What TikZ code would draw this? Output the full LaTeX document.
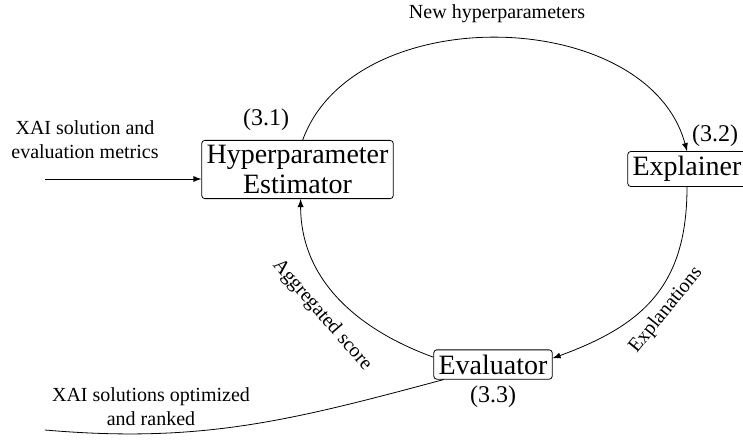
\documentclass[tikz,border=0pt]{standalone}
\usepackage{fontspec}
\setmainfont{Liberation Serif}
\usetikzlibrary{arrows}

\tikzset{
  block/.style={draw, rounded corners=1.5pt, align=center, inner sep=2.4pt,
    font=\fontsize{14}{15}\selectfont},
  stage/.style={font=\large},
  flow/.style={-latex},
  note/.style={align=center},
}

\begin{document}
\begin{tikzpicture}[x=0.5pt,y=0.5pt]
    \useasboundingbox (0,0) rectangle (743,439);

    % blocks
    \node[block] (hpe) at (297.5,269.5) {Hyperparameter\\Estimator};
    \node[block] (expl) at (687,270) {Explainer};
    \node[block] (eval) at (493,74.5) {Evaluator};

    % stage numbers
    \node[stage] (n31) at (266,319) {(3.1)};
    \node[stage] (n32) at (715,303) {(3.2)};
    \node[stage] (n33) at (493,42) {(3.3)};

    % input
    \coordinate (src) at (45,260);
    \node[note] (srclbl) at (85,299) {XAI solution and\\evaluation metrics};
    \draw[flow] (src) -- (src -| hpe.west);

    % loop
    \draw[flow] (hpe.80) to[out=70,in=105] (expl.north);
    \node (hplbl) at (497,425) {New hyperparameters};

    \draw[flow] (expl.south) to[out=-90,in=20,looseness=1.15] (eval.6);
    \node[rotate=51] (explbl) at (666,129) {Explanations};

    \draw[flow] (eval.173) to[out=160,in=-90] (hpe.-84);
    \node[rotate=-49] (agglbl) at (322,124) {Aggregated score};

    % output
    \coordinate (dst) at (45,9);
    \draw (eval.197) to[out=195,in=-5] (dst);
    \node[note] (dstlbl) at (151,32) {XAI solutions optimized\\and ranked};
\end{tikzpicture}
\end{document}
